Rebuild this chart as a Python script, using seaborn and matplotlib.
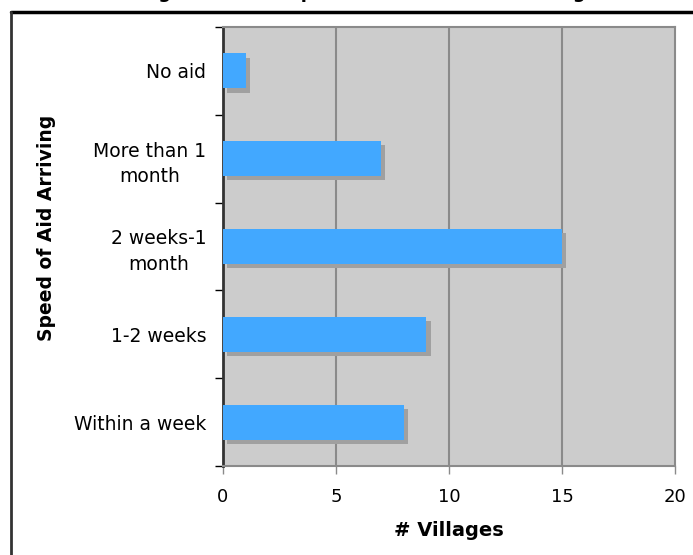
import matplotlib
matplotlib.use("Agg")
import matplotlib.pyplot as plt
import matplotlib.patheffects as pe
from matplotlib.lines import Line2D
import seaborn as sns
import pandas as pd

# Survey results: how long aid took to arrive, and how many villages reported each
speed_labels = ["No aid", "More than 1\nmonth", "2 weeks-1\nmonth", "1-2 weeks", "Within a week"]
village_counts = [1, 7, 15, 9, 8]
x_ticks = [0, 5, 10, 15, 20]

df = pd.DataFrame({"speed": speed_labels, "villages": village_counts})

sns.set_theme(style="white")
plt.rcParams["font.family"] = ["DejaVu Sans"]
plt.rcParams["text.color"] = "black"
plt.rcParams["axes.labelcolor"] = "black"
plt.rcParams["xtick.color"] = "black"
plt.rcParams["ytick.color"] = "black"

W, H, DPI = 693, 555, 100
fig = plt.figure(figsize=(W / DPI, H / DPI), dpi=DPI)
fig.patch.set_facecolor("white")

left, right, top, bottom = 223, 675, 27, 466
ax = fig.add_axes([left / W, 1 - bottom / H, (right - left) / W, (bottom - top) / H])
ax.set_facecolor("#cccccc")

sns.barplot(data=df, x="villages", y="speed", orient="h", color="#42a8ff",
            saturation=1, width=0.4, ax=ax, zorder=3)
for bar in ax.patches:
    bar.set_edgecolor("none")
    bar.set_path_effects([
        pe.SimplePatchShadow(offset=(3, -3), shadow_rgbFace="#a0a0a0", alpha=1.0),
        pe.Normal(),
    ])

ax.set_xlim(0, 20)
ax.set_ylim(len(speed_labels) - 0.5, -0.5)
ax.set_xticks(x_ticks)
ax.set_xticklabels([str(t) for t in x_ticks], fontsize=13, color="black")
for t in x_ticks[1:-1]:
    ax.axvline(t, color="#8a8a8a", lw=1.5, zorder=1)

ax.tick_params(axis="x", which="major", direction="out", length=6, width=1,
               color="#8a8a8a", pad=10, bottom=True, labelcolor="black")
ax.tick_params(axis="y", which="major", length=0, pad=12, labelsize=13.5,
               labelcolor="black")
ax.set_yticks([i - 0.5 for i in range(len(speed_labels) + 1)], minor=True)
ax.tick_params(axis="y", which="minor", direction="out", length=6, width=1,
               color="black", left=True)
for lab in ax.get_yticklabels():
    lab.set_multialignment("center")
    lab.set_linespacing(1.45)

for side in ["top", "right", "bottom"]:
    ax.spines[side].set_color("#8a8a8a")
    ax.spines[side].set_linewidth(1.5)
ax.spines["left"].set_color("#333333")
ax.spines["left"].set_linewidth(2)

ax.set_xlabel("# Villages", fontsize=14, fontweight="bold", color="black")
ax.set_ylabel("Speed of Aid Arriving", fontsize=13.5, fontweight="bold", color="black")
ax.xaxis.set_label_coords(0.5, -(530 - bottom) / (bottom - top), transform=ax.transAxes)
ax.yaxis.set_label_coords(-(223 - 47) / (right - left), 1 - (228 - top) / (bottom - top))
ax.xaxis.label.set_va("center")
ax.yaxis.label.set_va("center")

# Outer frame of the chart box
fig.add_artist(Line2D([11 / W, 1.0], [1 - 12 / H, 1 - 12 / H], color="black", lw=2.5,
                      transform=fig.transFigure))
fig.add_artist(Line2D([11 / W, 11 / W], [1 - 12 / H, 0.0], color="#333333", lw=2,
                      transform=fig.transFigure))

fig.text(365 / W, 1 + 2 / H, "Length of Aid Response Time Across All Villages",
         ha="center", va="baseline", fontsize=13, fontweight="bold", color="black")

fig.savefig("out.png", dpi=DPI)
